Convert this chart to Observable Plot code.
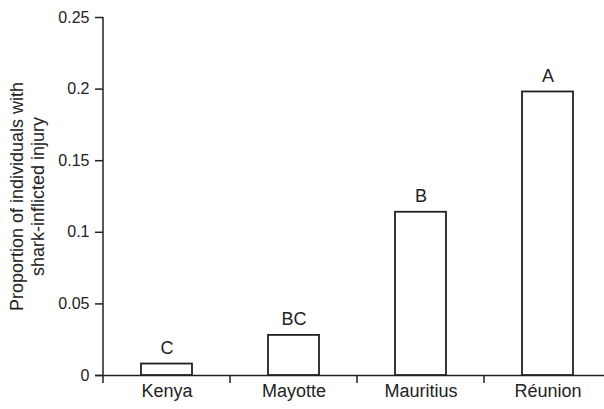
<!DOCTYPE html>
<html>
<head>
<meta charset="utf-8">
<script src="https://cdn.jsdelivr.net/npm/d3@7"></script>
<script src="https://cdn.jsdelivr.net/npm/@observablehq/plot@0.6"></script>
<style>
  html, body { margin: 0; padding: 0; background: #fff; }
  #chart svg { display: block; }
</style>
</head>
<body>
<div id="chart"></div>
<script>
const categories = ["Kenya", "Mayotte", "Mauritius", "Réunion"];
const proportions = [0.008, 0.028, 0.114, 0.198];
const letters = ["C", "BC", "B", "A"];
const yTicks = [0, 0.05, 0.1, 0.15, 0.2, 0.25];
const yTitle = "Proportion of individuals with\nshark-inflicted injury";

const data = categories.map((c, i) => ({site: c, value: proportions[i], letter: letters[i]}));
const ink = "#222";
const font = "'Liberation Sans', Arial, Helvetica, sans-serif";

const chart = Plot.plot({
  width: 604,
  height: 409,
  marginLeft: 103,
  marginRight: 0,
  marginTop: 17,
  marginBottom: 34,
  style: {fontFamily: font, color: ink, background: "#fff"},
  x: {domain: categories, range: [103, 611], paddingInner: 0.6, paddingOuter: 0.3, align: 0.5},
  y: {domain: [0, 0.25]},
  marks: [
    Plot.axisY({
      ticks: yTicks,
      tickFormat: d3.format("~g"),
      tickSize: 8,
      tickPadding: 6,
      fontSize: 16,
      stroke: ink,
      strokeWidth: 1.5,
      label: null
    }),
    Plot.axisX({
      tickSize: 0,
      tickPadding: 9,
      fontSize: 18,
      label: null
    }),
    Plot.text([yTitle], {
      frameAnchor: "left",
      rotate: -90,
      dx: -77,
      fontSize: 18,
      lineHeight: 1.17,
      textAnchor: "middle",
      fill: ink
    }),
    Plot.ruleY([0], {stroke: ink, strokeWidth: 1.5, insetLeft: -8}),
    Plot.barY(data, {x: "site", y: "value", fill: "#fff", stroke: ink, strokeWidth: 1.8}),
    Plot.text(data, {x: "site", y: "value", text: "letter", dy: -10, lineAnchor: "bottom", fontSize: 18, fill: ink})
  ]
});

// y axis line and band-boundary ticks, derived from the chart's own scales
const sx = chart.scale("x"), sy = chart.scale("y");
const step = sx.step !== undefined ? sx.step : (sx.apply(categories[1]) - sx.apply(categories[0]));
const bw = sx.bandwidth;
const y0 = sy.apply(0);
const yTop = sy.apply(yTicks[yTicks.length - 1]);
const g = d3.select(chart).append("g").attr("stroke", ink).attr("stroke-width", 1.5);
const xStart = sx.apply(categories[0]) - (step - bw) / 2;
g.append("line").attr("x1", xStart).attr("x2", xStart).attr("y1", yTop).attr("y2", y0);
for (const c of categories) {
  const xb = sx.apply(c) - (step - bw) / 2;
  g.append("line").attr("x1", xb).attr("x2", xb).attr("y1", y0).attr("y2", y0 + 8);
}

document.getElementById("chart").appendChild(chart);
</script>
</body>
</html>
